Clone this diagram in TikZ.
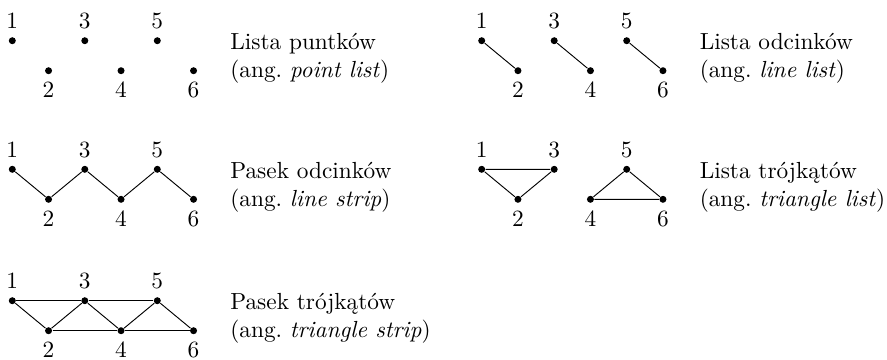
\documentclass[tikz,border=0pt]{standalone}
\usepackage{fontspec}
\newcommand\mypanel[3]{%
  \foreach \k in {1,...,6}{%
    \pgfmathsetmacro\px{#2+(\k-1)*36.25}%
    \pgfmathparse{int(mod(\k,2))}%
    \ifnum\pgfmathresult=1
      \node[pt] (#1\k) at (\px,#3) {};
      \node[num] (#1l\k) at (\px,#3-19.5) {\k};
    \else
      \node[pt] (#1\k) at (\px,#3+30) {};
      \node[num] (#1l\k) at (\px,#3+49.3) {\k};
    \fi
  }%
}
\tikzset{
  pt/.style={circle,fill=black,inner sep=0pt,minimum size=3pt},
  num/.style={inner sep=0pt},
  desc/.style={inner sep=0pt,anchor=west,align=left},
  edge/.style={line width=0.4pt}
}
\begin{document}
\begin{tikzpicture}[x=0.4292pt,y=-0.4292pt]
\useasboundingbox (0,0) rectangle (887,359);
% panel 1: point list
\mypanel{a}{12.3}{40.7}
\node[desc] (ta) at (229.9,58.4) {Lista puntków\\(ang.\ \textit{point list})};
% panel 2: line list
\mypanel{b}{481.7}{40.7}
\draw[edge] (b1) -- (b2) (b3) -- (b4) (b5) -- (b6);
\node[desc] (tb) at (699.3,58.4) {Lista odcinków\\(ang.\ \textit{line list})};
% panel 3: line strip
\mypanel{c}{12.3}{169.3}
\draw[edge] (c1) -- (c2) -- (c3) -- (c4) -- (c5) -- (c6);
\node[desc] (tc) at (229.9,187) {Pasek odcinków\\(ang.\ \textit{line strip})};
% panel 4: triangle list
\mypanel{d}{481.7}{169.3}
\draw[edge] (d1) -- (d2) -- (d3) -- (d1);
\draw[edge] (d4) -- (d5) -- (d6) -- (d4);
\node[desc] (td) at (699.3,187) {Lista trójkątów\\(ang.\ \textit{triangle list})};
% panel 5: triangle strip
\mypanel{e}{12.3}{300.7}
\draw[edge] (e1) -- (e2) -- (e3) -- (e4) -- (e5) -- (e6);
\draw[edge] (e1) -- (e3) -- (e5);
\draw[edge] (e2) -- (e4) -- (e6);
\node[desc] (te) at (229.9,318.4) {Pasek trójkątów\\(ang.\ \textit{triangle strip})};
\end{tikzpicture}
\end{document}
